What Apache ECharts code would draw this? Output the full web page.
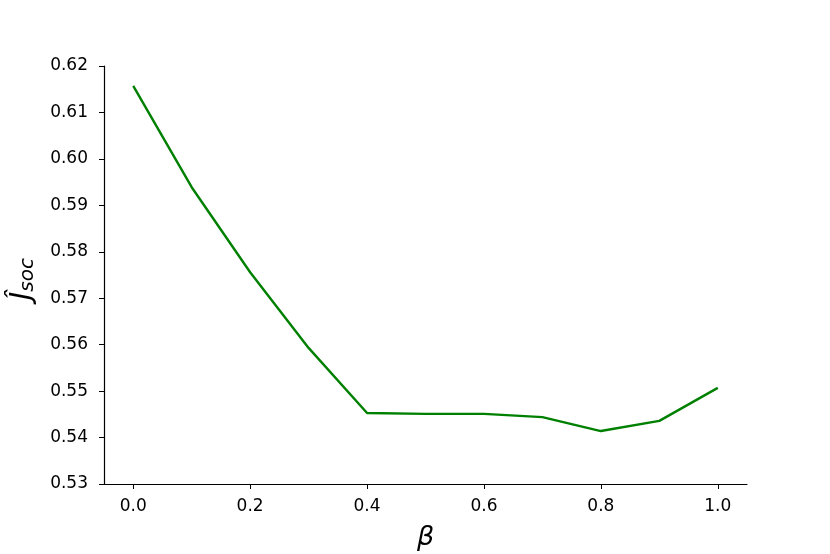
<!DOCTYPE html>
<html><head><meta charset="utf-8">
<script src="https://cdn.jsdelivr.net/npm/echarts@6/dist/echarts.min.js"></script>
<style>html,body{margin:0;padding:0;background:#fff}#c{width:830px;height:554px}</style>
</head><body><div id="c"></div>
<script>
const betas = [0.0, 0.1, 0.2, 0.3, 0.4, 0.5, 0.6, 0.7, 0.8, 0.9, 1.0];
const jsoc = [0.6157, 0.5939, 0.5756, 0.5593, 0.5453, 0.5451, 0.5451, 0.5444, 0.5414, 0.5436, 0.5507];
const xTicks = [0.0, 0.2, 0.4, 0.6, 0.8, 1.0];
const yTicks = [0.53, 0.54, 0.55, 0.56, 0.57, 0.58, 0.59, 0.60, 0.61, 0.62];

const chart = echarts.init(document.getElementById('c'), null, {renderer: 'canvas'});
const font = 'DejaVu Sans';
chart.setOption({
  animation: false,
  backgroundColor: '#fff',
  grid: {left: 104, right: 83, top: 66, bottom: 70, containLabel: false, outerBoundsMode: 'none'},
  xAxis: {
    type: 'value', min: -0.05, max: 1.05,
    name: 'β', nameLocation: 'middle', nameGap: 40,
    nameTextStyle: {fontFamily: font, fontStyle: 'italic', fontSize: 27, color: '#000'},
    axisLine: {show: true, onZero: false, lineStyle: {color: '#000', width: 1.2}},
    axisTick: {show: true, length: 5, lineStyle: {color: '#000', width: 1}, customValues: xTicks},
    axisLabel: {color: '#000', fontFamily: font, fontSize: 17, margin: 14, customValues: xTicks,
      formatter: v => v.toFixed(1)},
    splitLine: {show: false}
  },
  yAxis: {
    type: 'value', min: 0.53, max: 0.62,
    name: '{j|Ĵ}{s|soc}', nameLocation: 'middle', nameGap: 66, nameRotate: 90,
    nameTextStyle: {fontFamily: font, color: '#000',
      rich: {
        j: {fontFamily: font, fontStyle: 'italic', fontSize: 28, color: '#000'},
        s: {fontFamily: font, fontStyle: 'italic', fontSize: 20, color: '#000', verticalAlign: 'bottom', padding: [10, 8, 0, 0]}
      }},
    axisLine: {show: true, onZero: false, lineStyle: {color: '#000', width: 1.2}},
    axisTick: {show: true, length: 5, lineStyle: {color: '#000', width: 1}, customValues: yTicks},
    axisLabel: {color: '#000', fontFamily: font, fontSize: 17, margin: 16, customValues: yTicks,
      formatter: v => v.toFixed(2)},
    splitLine: {show: false}
  },
  series: [{
    type: 'line',
    data: betas.map((b, i) => [b, jsoc[i]]),
    showSymbol: false,
    lineStyle: {color: '#008000', width: 2.4},
    itemStyle: {color: '#008000'}
  }]
});
</script></body></html>
